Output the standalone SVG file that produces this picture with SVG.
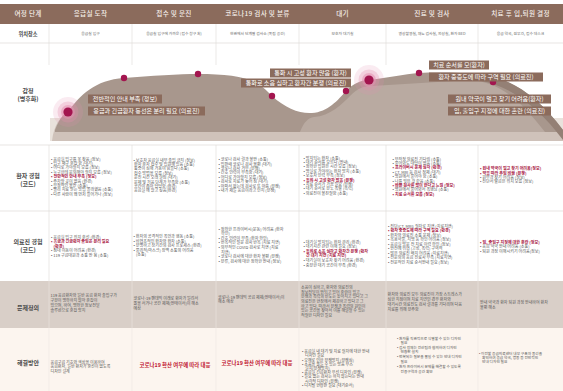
<svg xmlns="http://www.w3.org/2000/svg" width="563" height="391" viewBox="0 0 563 391">
<style>
text{font-family:"Noto Sans CJK KR","Noto Sans",sans-serif;}
.h{font-size:6.6px;fill:#f5eee9;text-anchor:middle;font-weight:500;letter-spacing:0.3px}
.lb{font-size:6px;fill:#4a4a4a;text-anchor:middle;font-weight:700}
.loc{font-size:3.8px;fill:#6a6a6a;text-anchor:middle}
.t{font-size:4.05px;fill:#585858}
.r{fill:#a8163f;font-weight:700}
.p{font-size:4px;fill:#555}
.s5{font-size:3.7px}
.em{font-size:6.1px;fill:#fff;text-anchor:middle}
.emb{fill:#8b6b5c}
.dot{fill:#a3154f}
.halo{fill:#e48fb0}
.big{font-size:5.4px;fill:#c0142e;font-weight:700;text-anchor:middle}
.vl{stroke:#dedad7;stroke-width:0.6}
.vp{stroke:#ece6e1;stroke-width:0.6}
.hl{stroke:#d9d5d2;stroke-width:0.6}
</style>
<rect x="0" y="0" width="563" height="391" fill="#fff"/>
<g id="backgrounds">
<rect x="0" y="4" width="563" height="20" fill="#8b6b5c"/>
<rect x="0" y="281" width="563" height="47" fill="#d9cfc8"/>
<rect x="0" y="328" width="563" height="63" fill="#fcf5ef"/>
</g>
<g id="grid">
<line class="hl" x1="0" y1="43" x2="563" y2="43"/>
<line class="hl" x1="0" y1="145" x2="563" y2="145"/>
<line class="hl" x1="0" y1="211" x2="563" y2="211"/>
<path class="vl" d="M49,24V65M132,24V65M216,24V65M299,24V65M386,24V65M478,24V65"/>
<path class="vl" d="M49,145V281M132,145V281M216,145V281M299,145V281M386,145V281M478,145V281"/>
<path class="vp" d="M49,281V391M132,281V391M216,281V391M299,281V391M386,281V391M478,281V391"/>
</g>
<g id="header">
<text class="h" x="28" y="16.3">여정 단계</text>
<text class="h" x="90.5" y="16.3">응급실 도착</text>
<text class="h" x="174" y="16.3">접수 및 문진</text>
<text class="h" x="257.5" y="16.3">코로나19 검사 및 분류</text>
<text class="h" x="342.5" y="16.3">대기</text>
<text class="h" x="432" y="16.3">진료 및 검사</text>
<text class="h" x="520.5" y="16.3">치료 후 입,퇴원 결정</text>
</g>
<g id="row-labels">
<text class="lb" x="28" y="35.5" style="font-size:5.2px">위치장소</text>
<text class="lb" x="28" y="92.5">감정</text>
<text class="lb" x="28" y="100.5">(병후화)</text>
<text class="lb" x="28" y="178">환자 경험</text>
<text class="lb" x="28" y="186">(코드)</text>
<text class="lb" x="28" y="244">의료진 경험</text>
<text class="lb" x="28" y="252">(코드)</text>
<text class="lb" x="28" y="310.3">문제정의</text>
<text class="lb" x="28" y="365">해결방안</text>
</g>
<g id="location-row">
<text class="loc" x="90.5" y="35">응급실 입구</text>
<text class="loc" x="174" y="35">응급실 입구에 가까운 (접수 창구 처)</text>
<text class="loc" x="257.5" y="35">현관에서 단계별 검사소 (독립 공간)</text>
<text class="loc" x="342.5" y="35">보호자 대기실</text>
<text class="loc" x="432" y="35">영상촬영실, 채뇨 검사실, 외상실, 환자 BED</text>
<text class="loc" x="520.5" y="35">응급 약국, 원무과, 접수 데스크</text>
</g>
<g id="emotion-chart">
<rect x="50" y="118" width="513" height="23" fill="#e9e2dc"/>
<path fill="#cfc2ba" d="M52,141 C54,125 60,116 68,114 C82,99 97,86 124,84 L250,82 C266,90 280,115 312,118 C338,118 352,96 372,88 L478,82 C505,84 535,102 563,134 L563,141 Z"/>
<path fill="#a8978d" d="M55,130 C60,118 64,113 68,112 C80,95 95,80 124,78 C150,76 180,74 198,74 C225,74 245,76 258,84 C266,89 270,94 272,96 C285,108 300,114 312,113 C328,112 338,100 346,91 C353,84 360,80 369,80 C385,78 405,74 419,73 C440,72 465,73 478,74 C505,76 535,92 563,130 L563,132 L55,132 Z"/>
<path fill="#b9aaa1" d="M300,132 C304,122 308,118 314,117 C330,116 342,104 350,96 C358,88 364,86 372,86 L470,80 C500,82 520,100 545,132 Z"/>
<path fill="#948075" d="M478,74 C505,76 535,92 563,130 L563,140 C538,106 508,84 476,80 Z"/>
<circle class="halo" cx="68" cy="112" r="15" opacity="0.18"/>
<circle class="halo" cx="68" cy="112" r="10.5" opacity="0.3"/>
<circle class="halo" cx="68" cy="112" r="7" opacity="0.55"/>
<circle class="dot" cx="68" cy="112" r="4.6"/>
<circle class="halo" cx="369" cy="80" r="15" opacity="0.18"/>
<circle class="halo" cx="369" cy="80" r="10.5" opacity="0.3"/>
<circle class="halo" cx="369" cy="80" r="7" opacity="0.55"/>
<circle class="dot" cx="369" cy="80" r="4.6"/>
<circle class="dot" cx="124" cy="78" r="3.2"/>
<circle class="dot" cx="198" cy="74" r="3.2"/>
<circle class="dot" cx="272" cy="96" r="3.2"/>
<circle class="dot" cx="346" cy="91" r="3.2"/>
<circle class="dot" cx="419" cy="73" r="3.2"/>
<circle class="dot" cx="493" cy="82" r="3.2"/>
</g>
<g id="emotion-labels">
<rect class="emb" x="88" y="94.5" width="74" height="9"/>
<text class="em" x="125" y="101.2">전반적인 안내 부족 (정보)</text>
<rect class="emb" x="88" y="106.5" width="117" height="9"/>
<text class="em" x="146.5" y="113.2">응급과 긴급환자 동선은 분리 필요 (의료진)</text>
<rect class="emb" x="270" y="68.5" width="81" height="9"/>
<text class="em" x="310.5" y="75.2">통화 시 고성 환자 많음 (환자)</text>
<rect class="emb" x="241" y="78.5" width="110" height="9"/>
<text class="em" x="296" y="85.2">통화로 소음 심하고 환자간 분쟁 (의료진)</text>
<rect class="emb" x="429" y="60.5" width="60" height="9"/>
<text class="em" x="459" y="67.2">치료 순서를 모(환자)</text>
<rect class="emb" x="429" y="72.5" width="114" height="9"/>
<text class="em" x="486" y="79.2">환자 중증도에 따라 구역 필요 (의료진)</text>
<rect class="emb" x="448" y="94.5" width="103" height="9"/>
<text class="em" x="499.5" y="101.2">원내 약국이 멀고 찾기 어려움(환자)</text>
<rect class="emb" x="448" y="106.5" width="103" height="9"/>
<text class="em" x="499.5" y="113.2">입, 출입구 지정에 대한 혼란 (의료진)</text>
</g>
<g id="patient-row">
<text class="t" y="160.5"><tspan x="51">• 응급실 입구를 못 찾음 (정보)</tspan><tspan x="51" dy="4.4">• 입구 재구 혼잡 함 (대기)</tspan><tspan x="51" dy="4.4">• 어디로 가야할지 모름 (정보)</tspan><tspan x="51" dy="4.4">• 누구한테 문의해야 할지 모름 (정보)</tspan><tspan x="51" dy="4.4" class="r">• 전반적인 안내 부족 (정보)</tspan><tspan x="51" dy="4.4">• 주차할 곳이 없음 (환경)</tspan><tspan x="51" dy="4.4">• 부정적인 불안 (소통)</tspan><tspan x="51" dy="4.4">• 빨리 치료 받는 방법 몰라했음 (소통)</tspan><tspan x="51" dy="4.4">• 다른 사람이 왜 먼저 들어가나 (정보)</tspan></text>
<text class="t" y="161.5"><tspan x="133.5">• 보호자 응급실 내부 출입 금지 (정보)</tspan><tspan x="134" dy="4.4">환자 혼자 접수 및 입원해 있음 (소통)</tspan><tspan x="134" dy="4.4">통증이 심해 거동이 힘들다 (소통)</tspan><tspan x="134" dy="4.4">접수 방법을 모름 (정보)</tspan><tspan x="134" dy="4.4">문진 시간 오래 걸림 (대기)</tspan><tspan x="134" dy="4.4">문제 및 처음 단계가 부족함 (소통)</tspan><tspan x="134" dy="4.4">공간이 좁아 답답함 (환경)</tspan><tspan x="134" dy="4.4">응급실 에 앉고 싶음(환경)</tspan></text>
<text class="t" y="161.2"><tspan x="218.5">• 코로나 검사 결과 불안 (소통)</tspan><tspan x="218.5" dy="4.4">• 입판때 코로나 검사 불편 (대기)</tspan><tspan x="218.5" dy="4.4">• 코로나 검사 거부 (분쟁)</tspan><tspan x="218.5" dy="4.4">• 간호 인력이 부족함 (대기)</tspan><tspan x="218.5" dy="4.4">• 어디로 가야할지 모름 (정보)</tspan><tspan x="218.5" dy="4.4">• 검사로 치료가 늦어 짐 (대기)</tspan><tspan x="218.5" dy="4.4">• 아파서 왔는데 검사로 또 아픔 (분쟁)</tspan><tspan x="218.5" dy="4.4">• 내가 제일 응급이라고 인지 (분쟁)</tspan></text>
<text class="t" y="159.5"><tspan x="303.5">• 방치되는 환자 (소통)</tspan><tspan x="303.5" dy="4.4">• 대기 순서를 모르다 (안내)</tspan><tspan x="303.5" dy="4.4">• 정확한 입원은 시간 모름 (정보)</tspan><tspan x="303.5" dy="4.4">• 병실로 가야하는 환자 방치 (소통)</tspan><tspan x="303.5" dy="4.4">• 보호자 인력 부족 (정보)</tspan><tspan x="303.5" dy="4.4" class="r">• 통화 시 고성 환자 많음 (분쟁)</tspan><tspan x="303.5" dy="4.4">• 치료 순서가 가끔 필요 (분쟁)</tspan><tspan x="303.5" dy="4.4">• 대기 순서로 분노 폭발 (폭력)</tspan><tspan x="303.5" dy="4.4">• 의료진이 불친절함 (소통)</tspan></text>
<text class="t" y="160.5"><tspan x="392.5">• 무작정 의료진 기다림 (소통)</tspan><tspan x="392.5" dy="4.4">• 물어봐도 대답이 없음 (소통)</tspan><tspan x="392.5" dy="4.4" class="r">• 프라이버시 문제 심각 (환경)</tspan><tspan x="392.5" dy="4.4">• CT, MRI 등 검사 정체 (대기)</tspan><tspan x="392.5" dy="4.4">• 병원에서 물어야 함 (소통)</tspan><tspan x="392.5" dy="4.4">• 나를 잊은 것 같음 (소통)</tspan><tspan x="392.5" dy="4.4" class="r">• 바쁜 검사를 많이 한다고 느낌 (정보)</tspan><tspan x="392.5" dy="4.4">• 병원에서 물어봐서 폭행남 (소통)</tspan><tspan x="392.5" dy="4.4" class="r">• 치료 순서를 모름 (정보)</tspan></text>
<text class="t" y="170.2"><tspan x="480" class="r">• 원내 약국이 멀고 찾기 어려움(정보)</tspan><tspan x="480" dy="4.4" class="r">• 약을 따라 주입 비쌈 (분쟁)</tspan><tspan x="480" dy="4.4">• 원무과 찾기 어려움 (정보)</tspan><tspan x="480" dy="4.4">• 진단서 발급은 위치 모름 (정보)</tspan></text>
</g>
<g id="staff-row">
<text class="t" y="238.5"><tspan x="51">• 응급실 입구 위치 혼선 (환경)</tspan><tspan x="51" dy="4.5" class="r">• 응급과 긴급환자 출입은 분리 필요</tspan><tspan x="53.5" dy="4.5" class="r">(환경)</tspan><tspan x="51" dy="4.5">• 침대 이동이 어려움 (환경)</tspan><tspan x="51" dy="4.5">• 119 구급대원과 소통 안 됨 (소통)</tspan></text>
<text class="t" y="238.2"><tspan x="133.5">• 환자의 공격적인 폭언과 행동 (소통)</tspan><tspan x="133.5" dy="4.5">• 비협조적인 환자와 환자 (소통)</tspan><tspan x="133.5" dy="4.5">• 분명하고 장기간의 검사 프로세스 (환경)</tspan><tspan x="133.5" dy="4.5">• 물리적(마스크) 장벽 소통의 어려움</tspan><tspan x="136" dy="4.5">(소통)</tspan></text>
<text class="t" y="230.5"><tspan x="218.5">• 정확한 프라이버시(문동) 어려움 (환자</tspan><tspan x="221" dy="4.6">확인)</tspan><tspan x="218.5" dy="4.6">• 간호 인력이 부족 (환자 확인)</tspan><tspan x="218.5" dy="4.6">• 번복적인 질문 검사 반복 (치료 지연)</tspan><tspan x="218.5" dy="4.6">• 의무적인 COVID 검사로 지연 (치료</tspan><tspan x="221" dy="4.6">지연)</tspan><tspan x="218.5" dy="4.6">• 코로나 검사에 대한 환자 불편 (분쟁)</tspan><tspan x="218.5" dy="4.6">• 분류, 검사에 대한 정확한 안내 (정보)</tspan></text>
<text class="t" y="243.8"><tspan x="303.5">• 대기실 방치되는 환자 관리 (환경)</tspan><tspan x="303.5" dy="4.55">• 대기시간 관련 이해 필요 (정보)</tspan><tspan x="303.5" dy="4.55" class="r">• 통화로 소음 심하고 환자간 분쟁 (환자</tspan><tspan x="306" dy="4.55" class="r">간 대기 지연 (치료 지연)</tspan><tspan x="303.5" dy="4.55">• 대기실이 보호자 찾기 어려움 (환경)</tspan><tspan x="303.5" dy="4.55">• 충분한 대기 공간이 부족 (환경)</tspan></text>
<text class="t" y="227.5"><tspan x="388">• 진단(CT, MRI) 절차로 지연 (치료지연)</tspan><tspan x="388" dy="4.55" class="r">• 환자 중증도에 따라 구역 필요 (환경)</tspan><tspan x="388" dy="4.55">• 환자와 의료진 소통 문제 (정보)</tspan><tspan x="388" dy="4.55">• 복용약물, 지병 등 확인 어려움 (정보)</tspan><tspan x="388" dy="4.55">• 응급실 방문 전 치료 이력 확인 (정보)</tspan><tspan x="388" dy="4.55">• 안전에 위협 (고성, 폭력) 구역적</tspan><tspan x="388" dy="4.55">• 많은 의료진 배치 어려움 (치료지연)</tspan><tspan x="388" dy="4.55">• 전문의의 응급 진료사 부족 (치료지연)</tspan><tspan x="388" dy="4.55">• 전문적인 치료 순서안내 필요 (정보)</tspan></text>
<text class="t" y="243.8"><tspan x="480" class="r">• 입, 출입구 지정에 대한 혼란 (정보)</tspan><tspan x="480" dy="4.4">• 응급 약국 안내 어려움 (소통)</tspan><tspan x="480" dy="4.4">• 퇴원 과정 이해시키기 어려움(정보)</tspan></text>
</g>
<g id="problem-row">
<text class="p" y="297.2"><tspan x="50.5">119 응급환자와 일반 응급 환자 출입구가</tspan><tspan x="50.5" dy="4.8">구분이 명확하지 않아 혼잡이</tspan><tspan x="50.5" dy="4.8">있으며, 하여, 명확한 정보전달</tspan><tspan x="50.5" dy="4.8">솔루션으로 혼잡 방지</tspan></text>
<text class="p" y="300"><tspan x="133.5">코로나-19 팬데믹 이래로 환자가 밀려서</tspan><tspan x="133.5" dy="4.9">줄을 서거나 공간 제재(안태이서)이 해소</tspan><tspan x="133.5" dy="4.9">예상</tspan></text>
<text class="p" y="298.5"><tspan x="218">코로나-19 팬데믹 공급 체제(안태이서)이</tspan><tspan x="218" dy="4.9">해소 예상</tspan></text>
<text class="p" y="289.2"><tspan x="301">소음이 심하고, 환자와 의료진의</tspan><tspan x="301" dy="4.6">정보전달이 안되고 있어 혼란이 있고,</tspan><tspan x="301" dy="4.6">분쟁과 폭력의 빈도는 높아지고 있다고 그</tspan><tspan x="301" dy="4.6">의료진은 현장에서 체감하고 있다고 그</tspan><tspan x="301" dy="4.6">하고 있다. 따라서 분쟁과 폭력의 원인이</tspan><tspan x="301" dy="4.6">있는 공간을 찾아서 이를 해결할 수 있는</tspan><tspan x="301" dy="4.6">적절한 디자인 필요</tspan></text>
<text class="p" y="296"><tspan x="387.5">환자와 의료진 모두 의료진이 가장 스트레스가</tspan><tspan x="387.5" dy="4.85">심한 지점이며 치료 지연인 경우 환자와</tspan><tspan x="387.5" dy="4.85">대기시간 의료진도 검사 결과를 기다리며 다음</tspan><tspan x="387.5" dy="4.85">치료를 위해 분주함</tspan></text>
<text class="p" y="303.8"><tspan x="480">안내 약국과 환자 퇴원 과정 안내하여 환자</tspan><tspan x="480" dy="4.9">불편 해소</tspan></text>
</g>
<g id="solution-row">
<text class="p" y="363.5"><tspan x="50.5">응급구급 기호와 색상을 이용하여</tspan><tspan x="50.5" dy="4.6">응급환자, 일반 환자가 혼선이 없도록</tspan><tspan x="50.5" dy="4.6">디자인 설계</tspan></text>
<text class="big" x="175" y="366.5">코로나19 확산 여부에 따라 대응</text>
<text class="big" x="257" y="364.5">코로나19 확산 여부에 따라 대응</text>
<text class="p" y="353.2"><tspan x="302">• 응급실 내 대기 및 치료 절차에 대한 안내</tspan><tspan x="305" dy="4.2">디자인 필요</tspan><tspan x="302" dy="4.2">• 오해로 인한 분쟁방지 (분쟁심)</tspan><tspan x="302" dy="4.2">• 소음을 줄일 수 있는 방음 부스</tspan><tspan x="305" dy="4.2">설치(분쟁방지)</tspan><tspan x="302" dy="4.2">• 응급실 긴급환자 우선 디자인 (분쟁)</tspan><tspan x="302" dy="4.2">• 필요 없는 검사는 하지 않는다는 안내</tspan><tspan x="305" dy="4.2">시각적 디자인 (분쟁)</tspan><tspan x="302" dy="4.2">• 디지털 현황판 필요 (대기순서)</tspan></text>
<text class="p s5" y="339.8"><tspan x="397">• 환자를 직관적으로 식별할 수 있는 디자인</tspan><tspan x="400.5" dy="4.4">필요</tspan><tspan x="397" dy="4.6">• 검사 정체는 전산팀과 협의하여 디자인</tspan><tspan x="400.5" dy="4.4">현황판 설치</tspan><tspan x="397" dy="5">• 번복되는 질문을 줄일 수 있는 안내 디자인</tspan><tspan x="400.5" dy="4.3">필요</tspan><tspan x="397" dy="5.7">• 환자 프라이버시 문제를 해결할 수 있도록</tspan><tspan x="400.5" dy="4.3">전용구역과 공간 확보</tspan></text>
<text class="p s5" y="354.8"><tspan x="479">• 이전할 응급의료센터 내부 구조와 동선을</tspan><tspan x="482" dy="4.1">확인하여 응급 약국, 병동 등 전반적인</tspan><tspan x="482" dy="4.3">안내 디자인 필요</tspan></text>
</g>
</svg>
